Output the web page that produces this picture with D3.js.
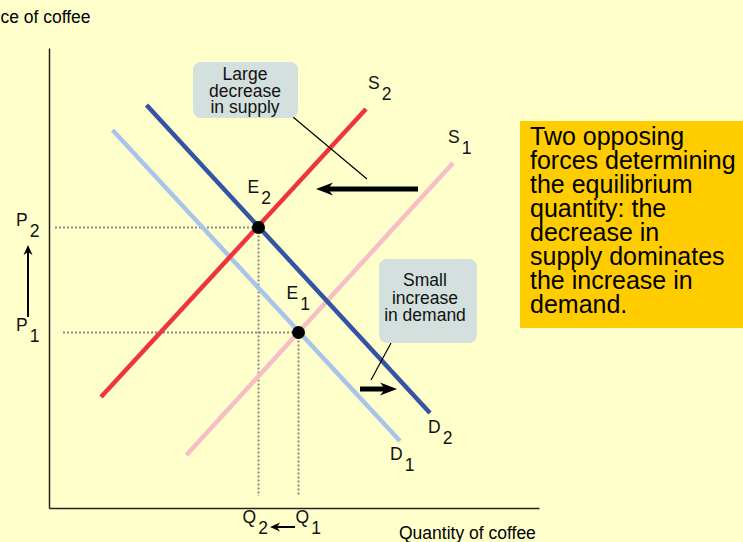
<!DOCTYPE html>
<html lang="en">

<head>
    <meta charset="UTF-8">
    <title>Supply decrease vs demand increase</title>
    <script src="https://cdn.jsdelivr.net/npm/d3@7"></script>
    <style>
        body { margin: 0; background: #FFFFCC; overflow: hidden; }
        svg { display: block; font-family: "Liberation Sans", Arial, sans-serif; }
    </style>
</head>

<body>
    <svg width="743" height="542"></svg>

    <script>
        // curve data (quantity, price) in chart units
        const curveNames = ["S1", "D1", "S2", "D2"]
        const curveStart = [[27.5, 10.6], [12.7, 75.6], [10.4, 22.2], [19.5, 80.6]]
        const curveEnd = [[80.8, 69.0], [70.2, 13.4], [63.4, 79.8], [76.2, 19.0]]

        const eqNames = ["E1", "E2"]
        const eqQuantity = [49.9, 41.9]
        const eqPrice = [35.1, 56.1]
        const priceNames = ["P1", "P2"]
        const quantityNames = ["Q1", "Q2"]
        const priceGuideFrom = [2.8, 1.2]
        const quantityGuideTo = 2.4

        const quantityMax = 98
        const priceMax = 92

        const noteLines = ["Two opposing", "forces determining", "the equilibrium",
            "quantity: the", "decrease in", "supply dominates", "the increase in", "demand."]
        const supplyNote = ["Large", "decrease", "in supply"]
        const demandNote = ["Small", "increase", "in demand"]

        const colors = { S1: "#F7BEC6", S2: "#EE3440", D1: "#A9C4EA", D2: "#3453A5" }
        // label offsets from curve end / point, px
        const labelOffset = { S1: [-5, -20], S2: [2, -20], D1: [-10, 19], D2: [-2, 20], E1: [-12, -34], E2: [-11, -35] }

        const svg = d3.select("svg")
        const x = d3.scaleLinear().domain([0, quantityMax]).range([49, 539])
        const y = d3.scaleLinear().domain([0, priceMax]).range([508, 48])

        const label = (g, name, px, py) => {
            const t = g.append("text").attr("x", px).attr("y", py)
                .attr("font-size", 17.5).attr("fill", "#111")
            t.append("tspan").text(name[0])
            t.append("tspan").attr("dx", 2).attr("dy", 11).text(name.slice(1))
        }

        // axes
        svg.append("g").attr("transform", `translate(0,${y(0)})`)
            .call(d3.axisBottom(x).tickValues([]).tickSizeOuter(0))
            .select(".domain").attr("stroke", "#222").attr("stroke-width", 1.5)
        svg.append("g").attr("transform", `translate(${x(0)},0)`)
            .call(d3.axisLeft(y).tickValues([]).tickSizeOuter(0))
            .select(".domain").attr("stroke", "#222").attr("stroke-width", 1.5)

        svg.append("text").attr("x", -21).attr("y", 23).attr("font-size", 17.5).text("Price of coffee")
        svg.append("text").attr("x", 399).attr("y", 539).attr("font-size", 17.5).text("Quantity of coffee")

        // dotted guides
        const guides = svg.append("g").attr("stroke", "#8a8a8a").attr("stroke-width", 2)
            .attr("stroke-dasharray", "2,2")
        eqNames.forEach((e, i) => {
            guides.append("line").attr("x1", x(priceGuideFrom[i])).attr("x2", x(eqQuantity[i]))
                .attr("y1", y(eqPrice[i])).attr("y2", y(eqPrice[i]))
            guides.append("line").attr("x1", x(eqQuantity[i])).attr("x2", x(eqQuantity[i]))
                .attr("y1", y(eqPrice[i])).attr("y2", y(quantityGuideTo))
        })

        // curves
        svg.append("g").selectAll("line")
            .data(curveNames)
            .join("line")
            .attr("x1", (d, i) => x(curveStart[i][0]))
            .attr("y1", (d, i) => y(curveStart[i][1]))
            .attr("x2", (d, i) => x(curveEnd[i][0]))
            .attr("y2", (d, i) => y(curveEnd[i][1]))
            .attr("stroke", d => colors[d])
            .attr("stroke-width", 4.5)

        curveNames.forEach((c, i) => {
            const o = labelOffset[c]
            label(svg, c, x(curveEnd[i][0]) + o[0], y(curveEnd[i][1]) + o[1])
        })

        // equilibrium points
        svg.append("g").selectAll("circle")
            .data(eqNames)
            .join("circle")
            .attr("cx", (d, i) => x(eqQuantity[i]))
            .attr("cy", (d, i) => y(eqPrice[i]))
            .attr("r", 6.5)
            .attr("fill", "#000")
        eqNames.forEach((e, i) => {
            const o = labelOffset[e]
            label(svg, e, x(eqQuantity[i]) + o[0], y(eqPrice[i]) + o[1])
            label(svg, priceNames[i], 16, y(eqPrice[i]) - 2)
        })
        label(svg, quantityNames[1], x(eqQuantity[1]) - 16, 523)
        label(svg, quantityNames[0], x(eqQuantity[0]) - 3, 523)

        // arrows: shaft stops inside the head, head drawn as a barbed path
        const arrow = (x1, y1, x2, y2, w, len, half) => {
            const ax = x(x1), ay = y(y1), bx = x(x2), by = y(y2)
            const a = Math.atan2(by - ay, bx - ax)
            const g = svg.append("g").attr("transform", `translate(${bx},${by}) rotate(${a * 180 / Math.PI})`)
            const L = Math.hypot(bx - ax, by - ay)
            g.append("line").attr("x1", -L).attr("x2", -len * 0.6)
                .attr("stroke", "#000").attr("stroke-width", w)
            g.append("path").attr("d", `M0,0L${-len},${-half}L${-len * 0.7},0L${-len},${half}Z`)
                .attr("fill", "#000")
        }

        arrow(73.8, 63.8, 53.4, 63.8, 5, 17, 6.5)
        arrow(62.2, 23.8, 69.6, 23.8, 5, 17, 6.5)
        arrow(-4.2, 38.2, -4.2, 52.6, 2, 10, 4.5)
        arrow(49.2, -3.8, 44.2, -3.8, 2, 10, 4.5)

        // callouts
        const callout = (lines, x0, x1, y0, y1, cx, base, lh, lead) => {
            svg.append("line").attr("x1", x(lead[0])).attr("y1", y(lead[1]))
                .attr("x2", x(lead[2])).attr("y2", y(lead[3]))
                .attr("stroke", "#000").attr("stroke-width", 1.2)
            svg.append("rect").attr("x", x(x0)).attr("y", y(y0))
                .attr("width", x(x1) - x(x0)).attr("height", y(y1) - y(y0))
                .attr("rx", 8).attr("fill", "#D4E0DD")
            svg.append("g").selectAll("text").data(lines).join("text")
                .attr("x", cx).attr("y", (d, i) => base + i * lh)
                .attr("text-anchor", "middle").attr("font-size", 17.5).attr("fill", "#111")
                .text(d => d)
        }
        callout(supplyNote, 28.8, 49.8, 89.2, 78.0, 245, 80, 16.5, [48.8, 78.2, 63.6, 65.8])
        callout(demandNote, 66.0, 85.6, 49.8, 33.0, 425, 286, 17.5, [68.4, 33.0, 64.4, 25.6])

        // side note
        svg.append("rect").attr("x", 520).attr("y", 121).attr("width", 223).attr("height", 207)
            .attr("fill", "#FFCC00")
        svg.append("g").selectAll("text").data(noteLines).join("text")
            .attr("x", 530).attr("y", (d, i) => 145 + i * 24)
            .attr("font-size", 25).attr("fill", "#000")
            .text(d => d)
    </script>
</body>

</html>
